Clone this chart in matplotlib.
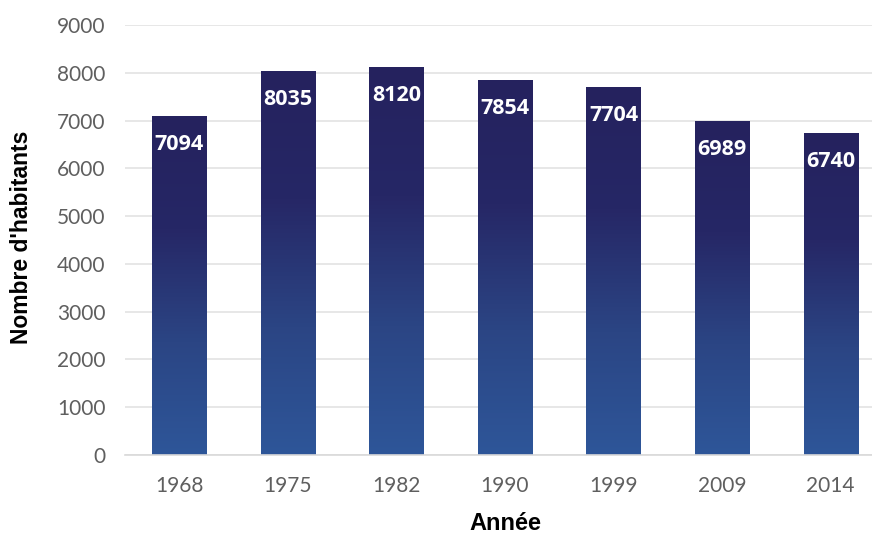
import matplotlib
matplotlib.use("Agg")
import matplotlib.pyplot as plt
import numpy as np
from matplotlib.colors import LinearSegmentedColormap

years = ["1968", "1975", "1982", "1990", "1999", "2009", "2014"]
population = [7094, 8035, 8120, 7854, 7704, 6989, 6740]
y_ticks = [0, 1000, 2000, 3000, 4000, 5000, 6000, 7000, 8000, 9000]

fig = plt.figure(figsize=(8.72, 5.36), dpi=100)
ax = fig.add_axes([125/872, 1 - 455/536, (885 - 125)/872, (455 - 25)/536])

x = np.arange(len(years))
bars = ax.bar(x, population, width=0.5, color="none", edgecolor="none", zorder=2)

cmap = LinearSegmentedColormap.from_list("g", ["#2e5699", "#2b4584", "#262766", "#25225e"])
grad = np.linspace(0, 1, 256).reshape(-1, 1)
for b in bars:
    x0, w, h = b.get_x(), b.get_width(), b.get_height()
    im = ax.imshow(grad, cmap=cmap, aspect="auto", origin="lower",
                   extent=[x0, x0 + w, 0, h], zorder=2, interpolation="bicubic")
    im.set_clip_path(b)

for xi, v in zip(x, population):
    ax.annotate(str(v), (xi, v), xytext=(0, -20.5), textcoords="offset points",
                ha="center", va="center", color="white", fontsize=15.5,
                fontweight="bold", family="Open Sans", zorder=3)

ax.set_xlim(-0.5, len(years) - 0.5)
ax.set_ylim(0, 9000)
ax.set_yticks(y_ticks)
ax.set_xticks(x)
ax.set_xticklabels(years)
ax.yaxis.grid(True, color="#e3e3e3", linewidth=1.2, zorder=0)
ax.set_axisbelow(True)
for s in ["top", "right", "left"]:
    ax.spines[s].set_visible(False)
ax.spines["bottom"].set_color("#d9d9d9")
ax.spines["bottom"].set_linewidth(1.2)
ax.tick_params(axis="both", length=0, labelsize=15, labelcolor="#5f5f5f")
ax.tick_params(axis="y", pad=14)
ax.tick_params(axis="x", pad=15)
for lab in ax.get_xticklabels() + ax.get_yticklabels():
    lab.set_family("Lato")

fig.text(22/872, 1 - 237/536, "Nombre d'habitants", rotation=90, ha="center",
         va="center", fontsize=16.5, fontweight="bold",
         family="Liberation Sans", color="black")
fig.text(505/872, 1 - 523/536, "Année", ha="center", va="center", fontsize=17,
         fontweight="bold", family="Liberation Sans", color="black")

fig.savefig("out.png", dpi=100)
